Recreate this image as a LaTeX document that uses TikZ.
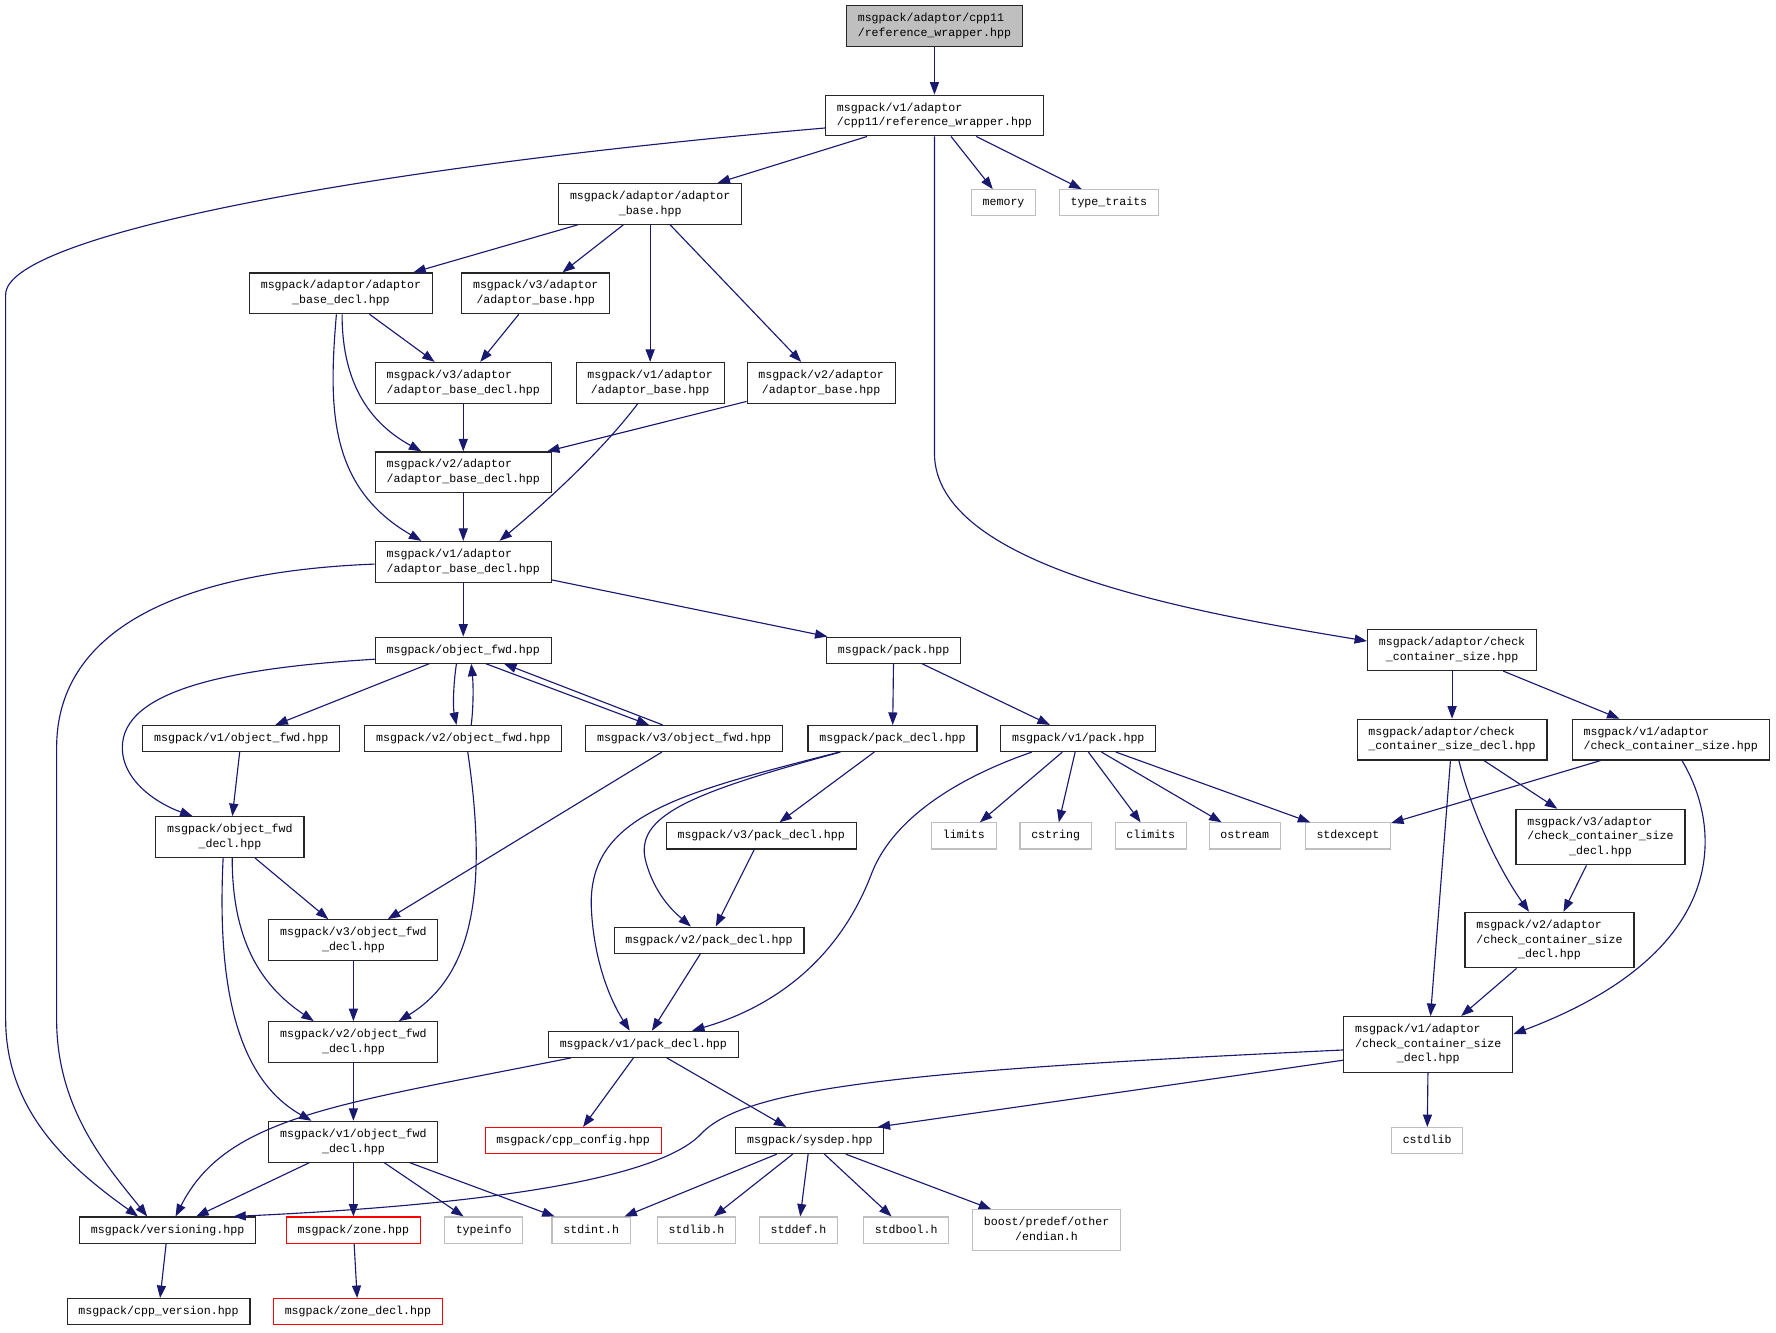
\documentclass[tikz,border=0pt]{standalone}
\usepackage{fontspec}
\setmonofont{Liberation Mono}
\usetikzlibrary{arrows.meta}
\definecolor{edgeblue}{RGB}{25,25,112}
\definecolor{boxgray}{RGB}{191,191,191}
\newcommand{\hdrtext}[1]{\begin{tabular}{@{}l@{}}#1\end{tabular}}
\newcommand{\hdrlast}[1]{\multicolumn{1}{@{}c@{}}{#1}}

\begin{document}
\begin{tikzpicture}[x=1pt, y=-1pt,
    hdr/.style={draw=black!85, line width=1pt, inner xsep=10pt, inner ysep=5pt, font=\ttfamily\fontsize{10.25}{13}\selectfont},
    cur/.style={hdr, fill=boxgray},
    syshdr/.style={hdr, draw=boxgray},
    nodoc/.style={hdr, draw=red},
    inc/.style={draw=edgeblue, line width=1pt, -{Triangle[length=11pt,width=8pt]}}]
    \useasboundingbox (0,0) rectangle (1568,1176);

    \node[cur] (root) at (825,23) {\hdrtext{msgpack/adaptor/cpp11\\\hdrlast{/reference\_wrapper.hpp}}};
    \node[hdr] (v1ref) at (825,102) {\hdrtext{msgpack/v1/adaptor\\\hdrlast{/cpp11/reference\_wrapper.hpp}}};
    \node[hdr] (abase) at (574,180) {\hdrtext{msgpack/adaptor/adaptor\\\hdrlast{\_base.hpp}}};
    \node[syshdr] (memory) at (886,179) {\hdrtext{memory}};
    \node[syshdr] (ttraits) at (979,179) {\hdrtext{type\_traits}};
    \node[hdr] (abdecl) at (301,259) {\hdrtext{msgpack/adaptor/adaptor\\\hdrlast{\_base\_decl.hpp}}};
    \node[hdr] (v3ab) at (473,259) {\hdrtext{msgpack/v3/adaptor\\\hdrlast{/adaptor\_base.hpp}}};
    \node[hdr] (v3abd) at (409,338) {\hdrtext{msgpack/v3/adaptor\\\hdrlast{/adaptor\_base\_decl.hpp}}};
    \node[hdr] (v1ab) at (574,338) {\hdrtext{msgpack/v1/adaptor\\\hdrlast{/adaptor\_base.hpp}}};
    \node[hdr] (v2ab) at (725,338) {\hdrtext{msgpack/v2/adaptor\\\hdrlast{/adaptor\_base.hpp}}};
    \node[hdr] (v2abd) at (409,417) {\hdrtext{msgpack/v2/adaptor\\\hdrlast{/adaptor\_base\_decl.hpp}}};
    \node[hdr] (v1abd) at (409,496) {\hdrtext{msgpack/v1/adaptor\\\hdrlast{/adaptor\_base\_decl.hpp}}};
    \node[hdr] (ofwd) at (409,574) {\hdrtext{msgpack/object\_fwd.hpp}};
    \node[hdr] (pack) at (789,574) {\hdrtext{msgpack/pack.hpp}};
    \node[hdr] (ccs) at (1282,574) {\hdrtext{msgpack/adaptor/check\\\hdrlast{\_container\_size.hpp}}};
    \node[hdr] (v1of) at (213,652) {\hdrtext{msgpack/v1/object\_fwd.hpp}};
    \node[hdr] (v2of) at (409,652) {\hdrtext{msgpack/v2/object\_fwd.hpp}};
    \node[hdr] (v3of) at (604,652) {\hdrtext{msgpack/v3/object\_fwd.hpp}};
    \node[hdr] (pdecl) at (788,652) {\hdrtext{msgpack/pack\_decl.hpp}};
    \node[hdr] (v1pack) at (952,652) {\hdrtext{msgpack/v1/pack.hpp}};
    \node[hdr] (ccsdecl) at (1282,653) {\hdrtext{msgpack/adaptor/check\\\hdrlast{\_container\_size\_decl.hpp}}};
    \node[hdr] (v1ccs) at (1475,653) {\hdrtext{msgpack/v1/adaptor\\\hdrlast{/check\_container\_size.hpp}}};
    \node[hdr] (ofdecl) at (203,739) {\hdrtext{msgpack/object\_fwd\\\hdrlast{\_decl.hpp}}};
    \node[hdr] (v3pd) at (672,738) {\hdrtext{msgpack/v3/pack\_decl.hpp}};
    \node[syshdr] (limits) at (851,738) {\hdrtext{limits}};
    \node[syshdr] (cstring) at (932,738) {\hdrtext{cstring}};
    \node[syshdr] (climits) at (1016,738) {\hdrtext{climits}};
    \node[syshdr] (ostream) at (1099,738) {\hdrtext{ostream}};
    \node[syshdr] (stdexc) at (1190,738) {\hdrtext{stdexcept}};
    \node[hdr] (v3ccsd) at (1413,739) {\hdrtext{msgpack/v3/adaptor\\/check\_container\_size\\\hdrlast{\_decl.hpp}}};
    \node[hdr] (v3ofd) at (312,830) {\hdrtext{msgpack/v3/object\_fwd\\\hdrlast{\_decl.hpp}}};
    \node[hdr] (v2pd) at (626,830) {\hdrtext{msgpack/v2/pack\_decl.hpp}};
    \node[hdr] (v2ccsd) at (1368,830) {\hdrtext{msgpack/v2/adaptor\\/check\_container\_size\\\hdrlast{\_decl.hpp}}};
    \node[hdr] (v2ofd) at (312,920) {\hdrtext{msgpack/v2/object\_fwd\\\hdrlast{\_decl.hpp}}};
    \node[hdr] (v1pd) at (568,922) {\hdrtext{msgpack/v1/pack\_decl.hpp}};
    \node[hdr] (v1ccsd) at (1261,922) {\hdrtext{msgpack/v1/adaptor\\/check\_container\_size\\\hdrlast{\_decl.hpp}}};
    \node[hdr] (v1ofd) at (312,1008) {\hdrtext{msgpack/v1/object\_fwd\\\hdrlast{\_decl.hpp}}};
    \node[nodoc] (cppcfg) at (506,1007) {\hdrtext{msgpack/cpp\_config.hpp}};
    \node[hdr] (sysdep) at (715,1007) {\hdrtext{msgpack/sysdep.hpp}};
    \node[syshdr] (cstdlib) at (1260,1007) {\hdrtext{cstdlib}};
    \node[hdr] (vers) at (148,1086) {\hdrtext{msgpack/versioning.hpp}};
    \node[nodoc] (zone) at (312,1086) {\hdrtext{msgpack/zone.hpp}};
    \node[syshdr] (tinfo) at (427,1086) {\hdrtext{typeinfo}};
    \node[syshdr] (stdint) at (522,1086) {\hdrtext{stdint.h}};
    \node[syshdr] (stdlib) at (615,1086) {\hdrtext{stdlib.h}};
    \node[syshdr] (stddef) at (705,1086) {\hdrtext{stddef.h}};
    \node[syshdr] (stdbool) at (800,1086) {\hdrtext{stdbool.h}};
    \node[syshdr] (endian) at (924,1086) {\hdrtext{boost/predef/other\\\hdrlast{/endian.h}}};
    \node[hdr] (cppver) at (140,1158) {\hdrtext{msgpack/cpp\_version.hpp}};
    \node[nodoc] (zonedecl) at (316,1158) {\hdrtext{msgpack/zone\_decl.hpp}};

    \draw[inc] (root) -- (v1ref);
    \draw[inc] ([yshift=-11pt]v1ref.west) .. controls (300,150) and (5,210) .. (5,260) -- (5,900) .. controls (5,980) and (60,1030) .. ([xshift=-26pt]vers.north);
    \draw[inc] (v1ref) -- (abase);
    \draw[inc] (v1ref) -- (memory);
    \draw[inc] (v1ref) -- (ttraits);
    \draw[inc] (v1ref.south) -- (825,400) .. controls (825,500) and (1050,540) .. ([yshift=8pt]ccs.west);
    \draw[inc] (abase) -- (abdecl);
    \draw[inc] (abase) -- (v3ab);
    \draw[inc] (abase) -- (v1ab);
    \draw[inc] (abase) -- (v2ab);
    \draw[inc] (abdecl) -- (v3abd);
    \draw[inc] ([xshift=1pt]abdecl.south) .. controls (302,330) and (320,370) .. ([xshift=-37pt]v2abd.north);
    \draw[inc] ([xshift=-4pt]abdecl.south) .. controls (290,360) and (290,430) .. ([xshift=-37pt]v1abd.north);
    \draw[inc] (v3ab) -- (v3abd);
    \draw[inc] (v3abd) -- (v2abd);
    \draw[inc] (v2ab) -- (v2abd);
    \draw[inc] ([xshift=-11pt]v1ab.south) .. controls (530,400) and (480,445) .. ([xshift=32pt]v1abd.north);
    \draw[inc] (v2abd) -- (v1abd);
    \draw[inc] ([yshift=-2pt]v1abd.west) .. controls (150,505) and (50,560) .. (50,660) -- (50,900) .. controls (50,980) and (95,1030) .. ([xshift=-18pt]vers.north);
    \draw[inc] (v1abd) -- (ofwd);
    \draw[inc] (v1abd) -- (pack);
    \draw[inc] ([yshift=-8pt]ofwd.west) .. controls (200,590) and (108,610) .. (108,660) .. controls (108,690) and (140,710) .. ([xshift=-33pt]ofdecl.north);
    \draw[inc] (ofwd) -- (v1of);
    \draw[inc] ([xshift=-6pt]ofwd.south) .. controls (400,605) and (400,625) .. ([xshift=-6pt]v2of.north);
    \draw[inc] ([xshift=7pt]v2of.north) .. controls (418,625) and (418,605) .. ([xshift=7pt]ofwd.south);
    \draw[inc] ([xshift=20pt]ofwd.south) -- ([xshift=-31pt]v3of.north);
    \draw[inc] ([xshift=-19pt]v3of.north) -- ([xshift=36pt]ofwd.south);
    \draw[inc] (v1of) -- (ofdecl);
    \draw[inc] ([xshift=4pt]v2of.south) .. controls (430,780) and (420,860) .. ([xshift=40pt]v2ofd.north);
    \draw[inc] (v3of) -- (v3ofd);
    \draw[inc] (ofdecl) -- (v3ofd);
    \draw[inc] ([xshift=2pt]ofdecl.south) .. controls (205,830) and (230,870) .. ([xshift=-35pt]v2ofd.north);
    \draw[inc] ([xshift=-6pt]ofdecl.south) .. controls (192,860) and (205,950) .. ([xshift=-37pt]v1ofd.north);
    \draw[inc] (v3ofd) -- (v2ofd);
    \draw[inc] (v2ofd) -- (v1ofd);
    \draw[inc] (v1ofd) -- (vers);
    \draw[inc] (v1ofd) -- (zone);
    \draw[inc] (v1ofd) -- (tinfo);
    \draw[inc] (v1ofd) -- (stdint);
    \draw[inc] (pack) -- (pdecl);
    \draw[inc] (pack) -- (v1pack);
    \draw[inc] (pdecl) -- (v3pd);
    \draw[inc] ([xshift=-47pt]pdecl.south) .. controls (600,700) and (520,720) .. (522,800) .. controls (524,850) and (540,885) .. ([xshift=-12pt]v1pd.north);
    \draw[inc] ([xshift=-46pt]pdecl.south) .. controls (610,700) and (560,720) .. (570,760) .. controls (578,790) and (595,805) .. ([xshift=-16pt]v2pd.north);
    \draw[inc] (v3pd) -- (v2pd);
    \draw[inc] (v2pd) -- (v1pd);
    \draw[inc] ([xshift=-41pt]v1pack.south) .. controls (850,685) and (790,720) .. (770,770) .. controls (740,850) and (680,890) .. ([xshift=43pt]v1pd.north);
    \draw[inc] (v1pack) -- (limits);
    \draw[inc] (v1pack) -- (cstring);
    \draw[inc] (v1pack) -- (climits);
    \draw[inc] (v1pack) -- (ostream);
    \draw[inc] (v1pack) -- (stdexc);
    \draw[inc] ([xshift=-64pt]v1pd.south) .. controls (300,975) and (200,985) .. ([xshift=7pt]vers.north);
    \draw[inc] (v1pd) -- (cppcfg);
    \draw[inc] (v1pd) -- (sysdep);
    \draw[inc] (ccs) -- (ccsdecl);
    \draw[inc] (ccs) -- (v1ccs);
    \draw[inc] (ccsdecl) -- (v1ccsd);
    \draw[inc] ([xshift=6pt]ccsdecl.south) .. controls (1300,720) and (1325,770) .. ([xshift=-18pt]v2ccsd.north);
    \draw[inc] (ccsdecl) -- (v3ccsd);
    \draw[inc] (v1ccs) -- (stdexc);
    \draw[inc] ([xshift=10pt]v1ccs.south) .. controls (1520,730) and (1530,840) .. ([yshift=9pt]v1ccsd.east);
    \draw[inc] (v3ccsd) -- (v2ccsd);
    \draw[inc] (v2ccsd) -- (v1ccsd);
    \draw[inc] ([yshift=-5pt]v1ccsd.west) .. controls (800,945) and (660,960) .. (620,1000) .. controls (580,1045) and (400,1065) .. ([xshift=58pt]vers.north);
    \draw[inc] ([yshift=-14pt]v1ccsd.west) -- ([xshift=-6pt]sysdep.north east);
    \draw[inc] (v1ccsd) -- (cstdlib);
    \draw[inc] (sysdep) -- (stdint);
    \draw[inc] (sysdep) -- (stdlib);
    \draw[inc] (sysdep) -- (stddef);
    \draw[inc] (sysdep) -- (stdbool);
    \draw[inc] (sysdep) -- (endian);
    \draw[inc] (vers) -- (cppver);
    \draw[inc] (zone) -- (zonedecl);
\end{tikzpicture}
\end{document}
